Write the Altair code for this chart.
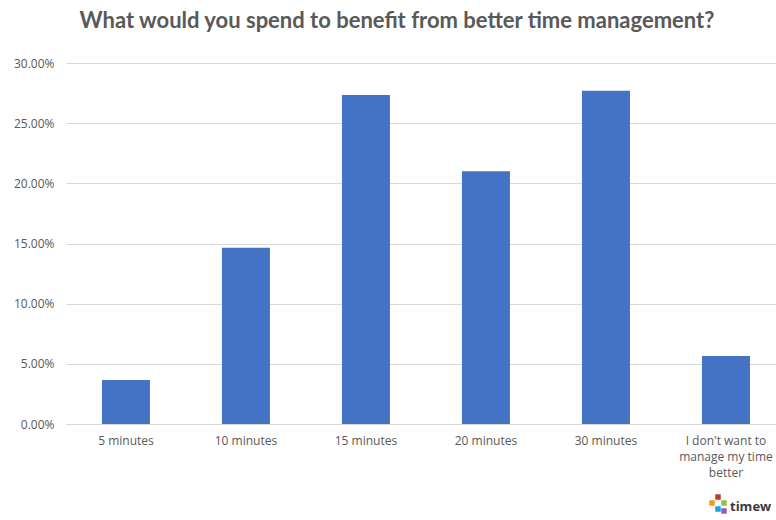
import altair as alt
import pandas as pd

categories = ["5 minutes", "10 minutes", "15 minutes", "20 minutes", "30 minutes",
              "I don't want to\nmanage my time\nbetter"]
values = [0.0366, 0.1465, 0.2735, 0.2100, 0.2770, 0.0566]

df = pd.DataFrame({"cat": categories, "val": values})

GRAY = "#595959"
FONT = "Open Sans"
TFONT = "Lato"

bars = alt.Chart(df).mark_bar(color="#4472C4").encode(
    x=alt.X("cat:N", sort=categories, title=None,
            scale=alt.Scale(paddingInner=0.6, paddingOuter=0.2583, align=0.58),
            axis=alt.Axis(labelAngle=0, labelColor=GRAY, labelFont=FONT, labelFontSize=12,
                          ticks=False, domain=True, domainColor="#d9d9d9", labelPadding=11,
                          labelExpr="split(datum.label, '\\n')", labelLineHeight=16)),
    y=alt.Y("val:Q", title=None,
            scale=alt.Scale(domain=[0, 0.30], nice=False),
            axis=alt.Axis(format=".2%", values=[0, 0.05, 0.10, 0.15, 0.20, 0.25, 0.30],
                          labelColor=GRAY, labelFont=FONT, labelFontSize=12,
                          ticks=False, domain=False, gridColor="#d9d9d9", labelPadding=12)),
)

logo_df = pd.DataFrame({
    "c": ["#c0392b", "#f39c12", "#8bc34a", "#1ba1e2", "#9b59b6"],
    "dx": [0, -6, 6, 0, 6],
    "dy": [0, 6, 6, 12, 14],
})
logo_txt = alt.Chart(pd.DataFrame({"k": [1]})).mark_text(
    text="timew", font=FONT, fontSize=13, fontWeight="bold", color="#3a3a3a", align="left",
    baseline="middle"
).encode(x=alt.value(664), y=alt.value(444))

squares = []
for c, dx, dy in zip(logo_df.c, logo_df.dx, logo_df.dy):
    squares.append(alt.Chart(pd.DataFrame({"k": [1]})).mark_square(
        color=c, size=30, opacity=1, filled=True
    ).encode(x=alt.value(652 + dx), y=alt.value(434 + dy)))

chart = alt.layer(bars, logo_txt, *squares).properties(
    width=710, height=361,
    title=alt.TitleParams("What would you spend to benefit from better time management?",
                          font=TFONT, fontSize=22, fontWeight="bold", color=GRAY,
                          anchor="middle", dx=-24, offset=24),
    autosize=alt.AutoSizeParams(type="none"),
    padding={"left": 66, "top": 63, "right": 0, "bottom": 96},
).configure_view(stroke=None)

chart.save("out.html", embed_options={"renderer": "svg", "actions": False})
